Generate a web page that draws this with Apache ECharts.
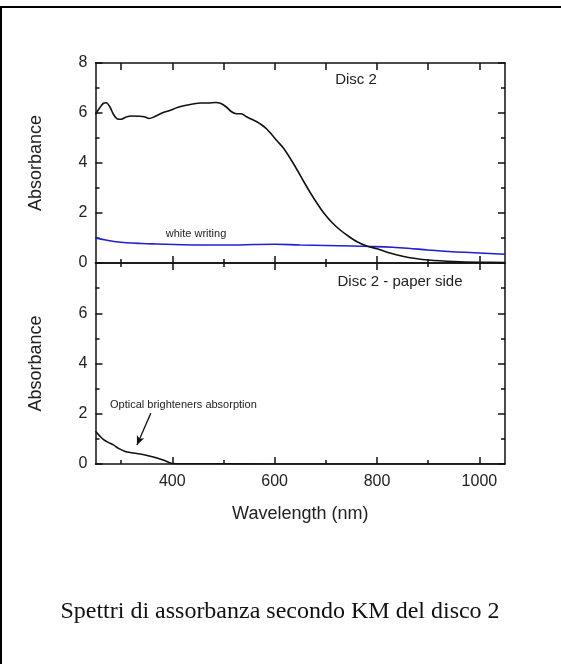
<!DOCTYPE html>
<html>
<head>
<meta charset="utf-8">
<script src="https://cdn.jsdelivr.net/npm/echarts@6/dist/echarts.min.js"></script>
<style>
  html, body { margin: 0; padding: 0; background: #fff; }
  #main { width: 561px; height: 664px; }
</style>
</head>
<body>
<div id="main"></div>
<script>
// Disc 2 (black curve, upper panel)
const wlDisc = [250, 258, 265, 271, 278, 285, 293, 300, 310, 320, 335, 345, 355, 365, 380, 395, 410, 425, 440, 455,
    470, 485, 495, 505, 515, 525, 535, 545, 555, 565, 575, 585, 595, 605, 617, 630, 644, 657, 670, 683,
    696, 712, 728, 745, 761, 780, 800, 825, 850, 875, 900, 950, 1000, 1050];
const absDisc = [5.95, 6.2, 6.38, 6.41, 6.25, 5.95, 5.76, 5.75, 5.84, 5.88, 5.87, 5.85, 5.78, 5.85, 6.0, 6.1, 6.22, 6.3, 6.36, 6.4,
    6.4, 6.42, 6.38, 6.25, 6.06, 5.97, 5.97, 5.85, 5.75, 5.65, 5.52, 5.35, 5.12, 4.88, 4.6, 4.2, 3.72, 3.25, 2.8, 2.38,
    2.0, 1.62, 1.32, 1.06, 0.85, 0.68, 0.57, 0.4, 0.27, 0.18, 0.12, 0.06, 0.03, 0.02];

// white writing (blue curve, upper panel)
const wlWhite = [250, 270, 290, 310, 340, 370, 420, 470, 520, 560, 600, 650, 700, 750, 790, 830, 860, 900, 940, 990, 1050];
const absWhite = [1.0, 0.92, 0.85, 0.81, 0.78, 0.76, 0.73, 0.72, 0.72, 0.74, 0.75, 0.72, 0.70, 0.68, 0.66, 0.63, 0.59, 0.52, 0.46, 0.41, 0.35];

// Disc 2 - paper side (lower panel)
const wlPaper = [250, 258, 265, 275, 285, 295, 308, 320, 337, 355, 370, 385, 400, 420, 480, 600, 800, 1050];
const absPaper = [1.3, 1.12, 0.98, 0.86, 0.76, 0.62, 0.5, 0.45, 0.4, 0.32, 0.24, 0.14, 0.02, 0.01, 0.01, 0, 0, 0];

// assi
const xMajor = [400, 600, 800, 1000];
const xMinor = [300, 500, 700, 900];
const xMin = 250, xMax = 1050;
const yMin = 0, yMax = 8, yStep = 2;

// freccia "Optical brighteners absorption"
const arrowFrom = [358, 2.02];
const arrowTo = [331, 0.76];

const SANS = '"Liberation Sans", Arial, sans-serif';
const SERIF = '"Liberation Serif", "Times New Roman", serif';

function pairs(xs, ys) {
    return xs.map(function (x, i) { return [x, ys[i]]; });
}

function xAx(grid, pos, ticks, len, line, labels) {
    return {
        type: 'value', gridIndex: grid, position: pos, min: xMin, max: xMax,
        axisLine: { show: line, onZero: false, lineStyle: { color: '#111', width: 1.5 } },
        axisTick: { show: true, inside: true, length: len, customValues: ticks, lineStyle: { color: '#111', width: 1.5 } },
        axisLabel: labels ? {
            show: true, customValues: xMajor, margin: 10, fontSize: 16, color: '#222', fontFamily: SANS,
            formatter: function (v) { return String(v); }
        } : { show: false },
        splitLine: { show: false }
    };
}

function yAx(grid, pos, labels, showMax) {
    return {
        type: 'value', gridIndex: grid, position: pos, min: yMin, max: yMax, interval: yStep,
        axisLine: { show: true, onZero: false, lineStyle: { color: '#111', width: 1.5 } },
        axisTick: { show: true, inside: true, length: 7, lineStyle: { color: '#111', width: 1.5 } },
        minorTick: { show: true, splitNumber: 2, length: 4, lineStyle: { color: '#111', width: 1.5 } },
        axisLabel: labels ? { show: true, margin: 8, fontSize: 16, color: '#222', fontFamily: SANS, showMaxLabel: showMax } : { show: false },
        splitLine: { show: false },
        minorSplitLine: { show: false }
    };
}

const chart = echarts.init(document.getElementById('main'), null, { renderer: 'canvas' });

const xAxes = [
    xAx(0, 'bottom', xMajor, 7, true, false),
    xAx(0, 'bottom', xMinor, 4, false, false),
    xAx(0, 'top', xMajor, 7, true, false),
    xAx(0, 'top', xMinor, 7, false, false),
    xAx(1, 'bottom', xMajor, 7, true, true),
    xAx(1, 'bottom', xMinor, 4, false, false),
    xAx(1, 'top', xMajor, 7, true, false),
    xAx(1, 'top', xMinor, 4, false, false)
];
xAxes[4].name = 'Wavelength (nm)';
xAxes[4].nameLocation = 'middle';
xAxes[4].nameGap = 41;
xAxes[4].nameTextStyle = { fontSize: 18, color: '#222', fontFamily: SANS };

const yAxes = [
    yAx(0, 'left', true, true),
    yAx(0, 'right', false, false),
    yAx(1, 'left', true, false),
    yAx(1, 'right', false, false)
];
[0, 2].forEach(function (i) {
    yAxes[i].name = 'Absorbance';
    yAxes[i].nameLocation = 'middle';
    yAxes[i].nameGap = 50;
    yAxes[i].nameTextStyle = { fontSize: 18, color: '#222', fontFamily: SANS };
});

const option = {
    animation: false,
    backgroundColor: '#fff',
    grid: [
        { left: 95.5, top: 63, width: 409.5, height: 200 },
        { left: 95.5, top: 263, width: 409.5, height: 201 }
    ],
    xAxis: xAxes,
    yAxis: yAxes,
    series: [
        {
            name: 'Disc 2', type: 'line', xAxisIndex: 0, yAxisIndex: 0,
            data: pairs(wlDisc, absDisc), showSymbol: false, smooth: 0.3,
            lineStyle: { color: '#111', width: 1.6 }, z: 3
        },
        {
            name: 'white writing', type: 'line', xAxisIndex: 0, yAxisIndex: 0,
            data: pairs(wlWhite, absWhite), showSymbol: false, smooth: 0.4,
            lineStyle: { color: '#1f1fd6', width: 1.6 }, z: 2
        },
        {
            name: 'Disc 2 - paper side', type: 'line', xAxisIndex: 4, yAxisIndex: 2,
            data: pairs(wlPaper, absPaper), showSymbol: false, smooth: 0.3,
            lineStyle: { color: '#111', width: 1.6 },
            markLine: {
                silent: true, symbol: ['none', 'arrow'], symbolSize: [6, 9],
                label: { show: false },
                lineStyle: { color: '#111', width: 1.3, type: 'solid' },
                data: [[{ coord: arrowFrom }, { coord: arrowTo }]]
            }
        }
    ],
    graphic: [
        // cornice
        { type: 'line', shape: { x1: 0, y1: 7, x2: 561, y2: 7 }, style: { stroke: '#000', lineWidth: 2 } },
        { type: 'line', shape: { x1: 1, y1: 7, x2: 1, y2: 664 }, style: { stroke: '#000', lineWidth: 2 } },
        { type: 'text', x: 356, y: 80, style: { text: 'Disc 2', font: '15px ' + SANS, fill: '#222', align: 'center', verticalAlign: 'middle' } },
        { type: 'text', x: 196, y: 234, style: { text: 'white writing', font: '11px ' + SANS, fill: '#222', align: 'center', verticalAlign: 'middle' } },
        { type: 'text', x: 400, y: 282, style: { text: 'Disc 2 - paper side', font: '15px ' + SANS, fill: '#222', align: 'center', verticalAlign: 'middle' } },
        { type: 'text', x: 110, y: 405, style: { text: 'Optical brighteners absorption', font: '11px ' + SANS, fill: '#222', align: 'left', verticalAlign: 'middle' } },
        { type: 'text', x: 280, y: 612, style: { text: 'Spettri di assorbanza secondo KM del disco 2', font: '24px ' + SERIF, fill: '#111', align: 'center', verticalAlign: 'middle' } }
    ]
};

chart.setOption(option);
</script>
</body>
</html>
